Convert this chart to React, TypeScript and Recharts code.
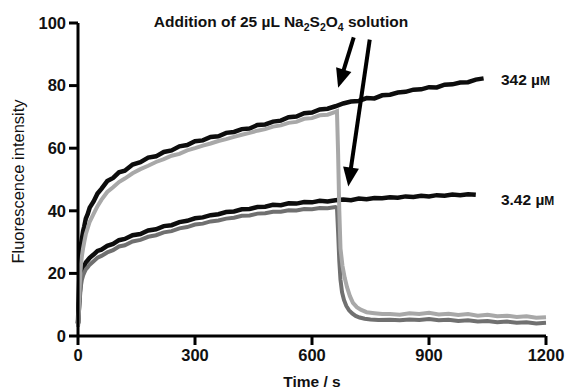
import React from 'react';
import {
  LineChart,
  Line,
  XAxis,
  YAxis,
  ReferenceLine,
  ReferenceDot,
} from 'recharts';

// shared early time grid (s)
const tRise = [0, 2, 4, 6, 8, 10, 13, 16, 20, 25, 30, 40, 50, 60, 75, 90, 105, 120, 140, 160, 180, 200,
  220, 240, 260, 280, 300, 320, 340, 360, 380, 400, 420, 440, 460, 480, 500, 520, 540, 560, 580, 600,
  620, 640, 660];
const tLate = [680, 700, 720, 740, 760, 780, 800, 820, 840, 860, 880, 900, 920, 940, 960, 980, 1000, 1020, 1040];
const tDropLight = [664, 667, 670, 673, 678, 684, 690, 697, 705, 715, 725, 740, 760, 780];
const tDropDark = [664, 667, 670, 673, 677, 682, 688, 695, 703, 712, 722, 735, 750, 770];
const tTail = [800, 825, 850, 875, 900, 925, 950, 975, 1000, 1025, 1050, 1075, 1100, 1125, 1150, 1175, 1200];

// 342 uM, no reductant (black)
const high = [4, 13, 21, 26, 29.5, 31, 33.5, 35, 37.5, 39, 41, 43, 45.5, 47, 49.5, 50.5, 52.3, 52.8, 54.8, 55.5,
  57, 57.4, 58.8, 59.3, 60.6, 61, 62.2, 62.5, 63.6, 63.8, 64.9, 65.2, 66.1, 66.3, 67.4, 67.6, 68.5, 68.8, 69.9,
  70.1, 71.2, 71.4, 72.4, 72.6, 73.4,
  74.3, 74.9, 75.1, 76.0, 75.9, 76.9, 77.1, 77.8, 78.0, 78.7, 78.8, 79.5, 79.4, 80.3, 80.4, 81.0, 81.1, 81.9, 82.3];

// 342 uM + Na2S2O4 (light grey)
const highRed = [3, 9, 15, 20, 23.5, 25.5, 28, 30, 32.5, 34.5, 36.5, 39, 41.5, 43.5, 46, 47.5, 49.2, 50.3, 52, 53.3,
  54.4, 55.6, 56.5, 57.6, 58.2, 59.3, 60, 60.8, 61.5, 62.3, 62.9, 63.6, 64.3, 64.9, 65.6, 66.1, 66.9, 67.3, 68.1,
  68.4, 69.4, 69.6, 70.5, 70.7, 71.6,
  71.8, 58, 40, 28, 22.5, 18.5, 15.5, 12.8, 10.6, 9.2, 8.4, 7.6, 7.3, 7.0,
  7.0, 6.8, 7.3, 7.0, 7.4, 6.9, 7.1, 6.7, 7.0, 6.5, 6.8, 6.3, 6.5, 6.1, 6.3, 5.8, 6.0];

// 3.42 uM, no reductant (black)
const low = [4, 8, 13, 16.5, 19, 20.5, 21.5, 22.3, 23.5, 24.2, 25, 26, 27.2, 27.6, 28.8, 29.4, 30.6, 31, 32.2, 32.6,
  33.7, 34.1, 35.1, 35.4, 36.4, 36.8, 37.6, 37.9, 38.6, 38.9, 39.6, 39.8, 40.5, 40.6, 41.2, 41.3, 41.9, 41.8, 42.4,
  42.3, 42.8, 42.7, 43.2, 43.0, 43.4,
  43.6, 43.4, 43.9, 43.7, 44.1, 44.0, 44.3, 44.2, 44.6, 44.4, 44.8, 44.6, 45.0, 44.8, 45.2, 45.0, 45.3, 45.1];

// 3.42 uM + Na2S2O4 (dark grey)
const lowRed = [3, 7, 11, 14, 16.5, 18, 19.3, 20.2, 21.3, 22, 22.8, 23.9, 25, 25.6, 26.7, 27.4, 28.6, 29, 30.2, 30.7,
  31.7, 32.2, 33.1, 33.5, 34.4, 34.8, 35.6, 35.9, 36.6, 36.9, 37.5, 37.8, 38.4, 38.5, 39.1, 39.2, 39.7, 39.7, 40.2,
  40.1, 40.6, 40.5, 40.9, 40.8, 41.2,
  41, 33, 24, 18, 14, 11.5, 9.6, 8.2, 7.2, 6.4, 5.9, 5.5, 5.3, 5.1,
  5.2, 5.0, 5.3, 5.1, 5.4, 5.0, 5.2, 4.8, 5.0, 4.6, 4.8, 4.4, 4.6, 4.2, 4.4, 4.0, 4.2];

const xTicks = [0, 300, 600, 900, 1200];
const yTicks = [0, 20, 40, 60, 80, 100];

const zip = (ts: number[], vs: number[]) => ts.map((t, i) => ({ t, v: vs[i] }));

const highData = zip([...tRise, ...tLate], high);
const highRedData = zip([...tRise, ...tDropLight, ...tTail], highRed);
const lowData = zip([...tRise, ...tLate.slice(0, 18)], low);
const lowRedData = zip([...tRise, ...tDropDark, ...tTail], lowRed);

const FONT = '"Liberation Sans", Arial, sans-serif';

const Arrow = (p: any) => {
  const { x1, y1, x2, y2 } = p;
  const dx = x2 - x1;
  const dy = y2 - y1;
  const len = Math.hypot(dx, dy);
  const ux = dx / len;
  const uy = dy / len;
  const hl = 19;
  const hw = 8;
  const bx = x2 - ux * hl;
  const by = y2 - uy * hl;
  return (
    <g>
      <line x1={x1} y1={y1} x2={bx + ux * 2} y2={by + uy * 2} stroke="#000" strokeWidth={4} />
      <polygon
        points={`${x2},${y2} ${bx - uy * hw},${by + ux * hw} ${bx + uy * hw},${by - ux * hw}`}
        fill="#000"
      />
    </g>
  );
};

const ConcLabel = (text: string) => (props: any) => {
  const { viewBox } = props;
  return (
    <text x={viewBox.x} y={viewBox.y + 6} fontFamily={FONT} fontWeight="bold" fontSize={15.5} fill="#111">
      {text} µ<tspan fontSize={12}>M</tspan>
    </text>
  );
};

const Title = (props: any) => {
  const { viewBox } = props;
  return (
    <text x={viewBox.x} y={viewBox.y} fontFamily={FONT} fontWeight="bold" fontSize={15.5} fill="#111">
      Addition of 25 µL Na<tspan dy={4} fontSize={10.5}>2</tspan>
      <tspan dy={-4}>S</tspan><tspan dy={4} fontSize={10.5}>2</tspan>
      <tspan dy={-4}>O</tspan><tspan dy={4} fontSize={10.5}>4</tspan>
      <tspan dy={-4}> solution</tspan>
    </text>
  );
};

const YTitle = (props: any) => {
  const { viewBox } = props;
  const cx = viewBox.x + 18;
  const cy = viewBox.y + viewBox.height / 2 + 2;
  return (
    <text x={cx} y={cy} transform={`rotate(-90 ${cx} ${cy})`} textAnchor="middle" dominantBaseline="central"
      fontFamily={FONT} fontSize={16.5} fill="#111">
      Fluorescence intensity
    </text>
  );
};

export default function App() {
  const tick = { fontSize: 16.5, fontWeight: 'bold', fill: '#111', fontFamily: FONT };
  return (
    <div style={{ position: 'absolute', left: 0, top: 0, background: '#fff' }}>
      <LineChart width={565} height={389} margin={{ top: 23, right: 19, bottom: 0, left: 0 }}>
        <XAxis
          dataKey="t"
          type="number"
          domain={[0, 1200]}
          ticks={xTicks}
          height={53}
          stroke="#000"
          strokeWidth={3}
          tickSize={9}
          tickMargin={4}
          tick={tick}
          interval={0}
          label={{ value: 'Time / s', position: 'insideBottom', offset: 0, dy: -2, style: { ...tick, fontSize: 15.5 } }}
        />
        <YAxis
          type="number"
          domain={[0, 100]}
          ticks={yTicks}
          width={78}
          stroke="#000"
          strokeWidth={3}
          tickSize={9}
          tickMargin={3}
          tick={tick}
          interval={0}
          label={{ content: YTitle }}
        />
        <Line data={lowData} dataKey="v" type="linear" stroke="#0d0d0d" strokeWidth={4.5} dot={false} isAnimationActive={false} />
        <Line data={highData} dataKey="v" type="linear" stroke="#0d0d0d" strokeWidth={4.5} dot={false} isAnimationActive={false} />
        <Line data={lowRedData} dataKey="v" type="linear" stroke="#707070" strokeWidth={4} dot={false} isAnimationActive={false} />
        <Line data={highRedData} dataKey="v" type="linear" stroke="#a8a8a8" strokeWidth={4} dot={false} isAnimationActive={false} />
        <ReferenceLine segment={[{ x: 707, y: 95.4 }, { x: 667, y: 79.3 }]} shape={Arrow} />
        <ReferenceLine segment={[{ x: 748, y: 94.7 }, { x: 693, y: 47.8 }]} shape={Arrow} />
        <ReferenceDot x={197} y={98.4} r={1} fill="none" stroke="none" label={{ content: Title }} />
        <ReferenceDot x={1087} y={81.8} r={1} fill="none" stroke="none" label={{ content: ConcLabel('342') }} />
        <ReferenceDot x={1087} y={43.6} r={1} fill="none" stroke="none" label={{ content: ConcLabel('3.42') }} />
      </LineChart>
    </div>
  );
}
